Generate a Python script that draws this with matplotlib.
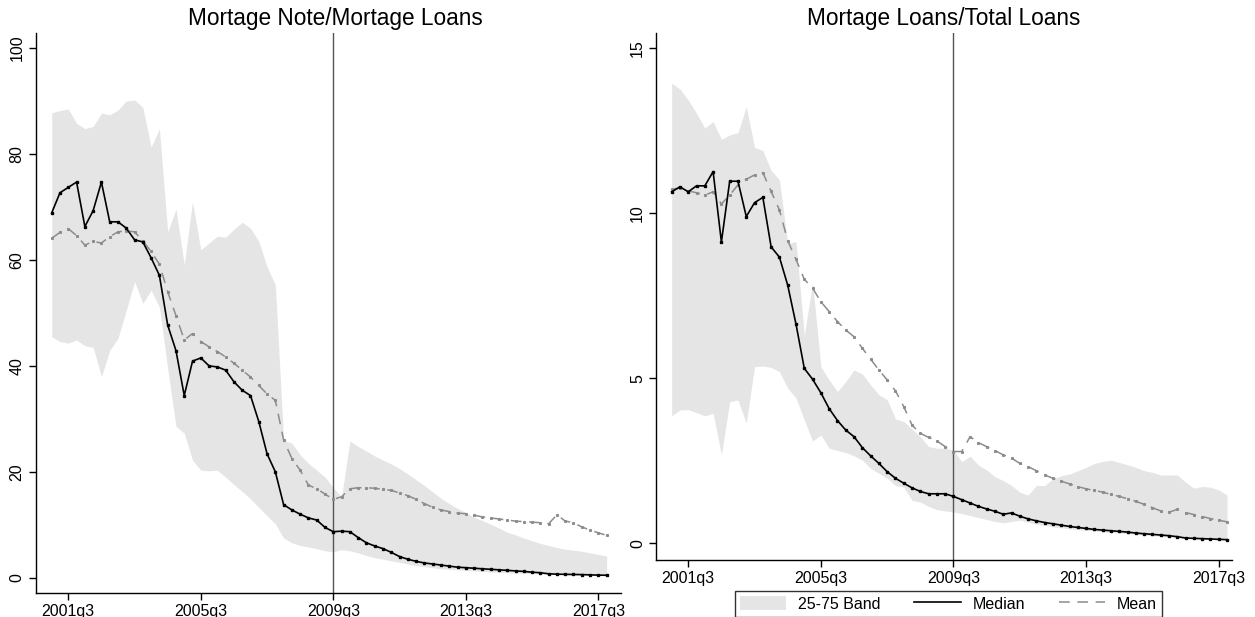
import numpy as np
import matplotlib.pyplot as plt

plt.rcParams['font.family'] = ['Liberation Sans', 'DejaVu Sans']

# quarters 2001q1 .. 2017q4
quarters = np.arange(68)
tick_pos = [2, 18, 34, 50, 66]
tick_labels = ['2001q3', '2005q3', '2009q3', '2013q3', '2017q3']

# Mortage Note / Mortage Loans
note_p25 = [45.5, 44.6, 44.3, 44.9, 43.8, 43.5, 38.0, 42.9, 45.2, 50.5, 55.9, 51.8, 54.3, 51.1,
            39.5, 28.6, 27.3, 22.2, 20.3, 20.2, 20.3, 19.0, 17.6, 16.3, 14.9, 13.3, 11.7, 10.2,
            7.5, 6.6, 6.1, 5.8, 5.5, 5.1, 4.9, 5.3, 5.1, 4.7, 4.2, 3.8, 3.5, 3.2, 2.9, 2.6,
            2.3, 2.1, 1.9, 1.7, 1.6, 1.5, 1.4, 1.3, 1.2, 1.1, 1.0, 0.95, 0.9, 0.85, 0.8, 0.75,
            0.7, 0.65, 0.6, 0.55, 0.5, 0.45, 0.4, 0.4]
note_p75 = [87.8, 88.2, 88.5, 85.8, 84.8, 85.2, 87.7, 87.4, 88.3, 90.0, 90.2, 88.8, 81.3, 84.8,
            65.3, 69.6, 59.1, 71.0, 61.9, 63.2, 64.5, 64.3, 65.8, 67.1, 66.0, 63.5, 58.7, 55.3,
            26.0, 25.4, 23.2, 21.6, 20.3, 19.0, 17.0, 15.3, 25.8, 24.8, 23.9, 23.0, 22.2, 21.5,
            20.6, 19.6, 18.5, 17.4, 16.2, 15.0, 14.0, 13.1, 12.3, 11.4, 10.8, 10.1, 9.4, 8.6,
            8.1, 7.5, 7.0, 6.5, 6.1, 5.7, 5.4, 5.2, 5.0, 4.7, 4.4, 4.1]
note_median = [68.9, 72.7, 73.7, 74.7, 66.3, 69.3, 74.7, 67.2, 67.2, 66.0, 63.8, 63.4, 60.4, 57.1,
               47.7, 42.9, 34.4, 40.9, 41.5, 40.0, 39.8, 39.2, 37.0, 35.4, 34.4, 29.5, 23.4, 20.0,
               13.8, 12.8, 12.0, 11.3, 10.9, 9.5, 8.7, 8.8, 8.7, 7.6, 6.6, 6.0, 5.5, 4.8, 4.0,
               3.5, 3.1, 2.8, 2.6, 2.4, 2.2, 2.0, 1.9, 1.8, 1.7, 1.6, 1.5, 1.4, 1.3, 1.2, 1.05,
               0.95, 0.75, 0.68, 0.65, 0.62, 0.6, 0.55, 0.5, 0.48]
note_mean = [64.1, 65.2, 65.9, 64.6, 62.8, 63.5, 63.2, 64.4, 65.3, 65.5, 65.3, 63.6, 61.6, 59.2,
             54.0, 49.5, 44.9, 46.1, 44.6, 43.6, 42.7, 41.7, 40.5, 39.2, 37.9, 36.3, 34.7, 33.5,
             26.0, 22.5, 20.3, 17.5, 16.8, 15.8, 14.8, 15.3, 16.8, 17.0, 17.0, 16.9, 16.7, 16.5,
             16.0, 15.5, 14.8, 14.0, 13.3, 12.8, 12.5, 12.2, 12.1, 11.8, 11.5, 11.3, 11.1, 10.9,
             10.7, 10.6, 10.5, 10.4, 10.2, 11.9, 10.7, 10.4, 9.6, 9.0, 8.5, 8.0]

# Mortage Loans / Total Loans
loan_p25 = [3.86, 4.04, 4.05, 3.96, 3.86, 3.94, 2.68, 4.29, 4.34, 3.64, 5.35, 5.37, 5.33, 5.2,
            4.7, 4.4, 3.74, 3.1, 3.28, 2.88, 2.81, 2.75, 2.65, 2.52, 2.27, 2.12, 1.97,
            1.75, 1.7, 1.3, 1.25, 1.12, 1.02, 0.98, 0.95, 0.9, 0.84, 0.78, 0.72, 0.66, 0.62,
            0.66, 0.7, 0.64, 0.58, 0.54, 0.5, 0.47, 0.44, 0.41, 0.39, 0.37, 0.35, 0.33, 0.31,
            0.29, 0.27, 0.25, 0.23, 0.21, 0.19, 0.17, 0.15, 0.14, 0.13, 0.12, 0.11, 0.1]
loan_p75 = [13.94, 13.76, 13.43, 13.03, 12.58, 12.78, 12.24, 12.37, 12.44, 13.23,
            12.0, 11.9, 11.3, 11.01, 9.09, 9.14, 6.3, 7.9, 5.35, 4.95,
            4.6, 4.9, 5.25, 5.13, 4.8, 4.5, 4.35, 3.77, 3.69, 3.46,
            3.23, 2.93, 2.88, 2.88, 2.83, 2.47, 2.64, 2.37, 2.22, 2.02,
            1.9, 1.75, 1.55, 1.46, 1.75, 1.75, 1.95, 2.05, 2.1, 2.2,
            2.3, 2.42, 2.48, 2.52, 2.45, 2.38, 2.3, 2.2, 2.15, 2.07,
            2.07, 2.07, 1.85, 1.67, 1.72, 1.7, 1.62, 1.46]
loan_median = [10.65, 10.8, 10.65, 10.83, 10.83, 11.26, 9.13, 10.97, 10.97, 9.9, 10.32, 10.48,
               8.98, 8.67, 7.82, 6.64, 5.30, 4.97, 4.56, 4.08, 3.72, 3.43, 3.23, 2.90, 2.65,
               2.42, 2.17, 1.97, 1.82, 1.68, 1.57, 1.50, 1.50, 1.50, 1.42, 1.32, 1.22, 1.12,
               1.04, 0.97, 0.88, 0.92, 0.82, 0.74, 0.68, 0.63, 0.59, 0.55, 0.51, 0.48, 0.45,
               0.42, 0.40, 0.38, 0.36, 0.34, 0.31, 0.29, 0.27, 0.25, 0.23, 0.20, 0.16, 0.15,
               0.14, 0.13, 0.12, 0.11]
loan_mean = [10.73, 10.76, 10.68, 10.62, 10.55, 10.65, 10.28, 10.55, 10.86, 11.03, 11.16, 11.23,
             10.66, 10.1, 9.17, 8.6, 8.0, 7.73, 7.32, 7.02, 6.72, 6.46, 6.26, 5.91, 5.58, 5.25,
             4.95, 4.62, 4.14, 3.58, 3.33, 3.21, 3.10, 2.93, 2.78, 2.78, 3.23, 3.05, 2.93, 2.81,
             2.68, 2.58, 2.42, 2.32, 2.20, 2.07, 1.97, 1.88, 1.80, 1.72, 1.65, 1.60, 1.55, 1.48,
             1.42, 1.35, 1.27, 1.18, 1.08, 0.98, 0.94, 1.03, 0.93, 0.87, 0.81, 0.75, 0.70, 0.65]

W, H = 1255, 617
fig = plt.figure(figsize=(W / 100, H / 100), dpi=100)
ax1 = fig.add_axes([35.5 / W, 1 - 593.3 / H, (620.7 - 35.5) / W, (593.3 - 32.7) / H])
ax2 = fig.add_axes([656 / W, 1 - 560 / H, (1232 - 656) / W, (560 - 32.7) / H])

mean_dash = (0, (7, 5))


def draw(ax, p25, p75, med, mean, xlim, ylim, yticks):
    band = ax.fill_between(quarters, p25, p75, color='#e5e5e5', lw=0, zorder=1)
    ax.axvline(34, color='#555555', lw=1.0, zorder=2)
    ax.plot(quarters, med, color='black', lw=1.2, marker='s', ms=1.8, zorder=4)
    ax.plot(quarters, mean, color='#8c8c8c', lw=1.1, ls=mean_dash,
            marker='s', ms=1.2, zorder=3)
    ax.set_xlim(*xlim)
    ax.set_ylim(*ylim)
    ax.set_xticks(tick_pos)
    ax.set_xticklabels(tick_labels)
    ax.set_yticks(yticks)
    ax.set_yticklabels([str(t) for t in yticks], rotation=90, va='center')
    ax.tick_params(length=5, width=1, labelsize=11.5, color='black', pad=3)
    for s in ['top', 'right']:
        ax.spines[s].set_visible(False)
    for s in ['left', 'bottom']:
        ax.spines[s].set_color('black')
        ax.spines[s].set_linewidth(1.0)
    return band


draw(ax1, note_p25, note_p75, note_median, note_mean,
     (-1.96, 68.7), (-2.93, 102.9), [0, 20, 40, 60, 80, 100])
band = draw(ax2, loan_p25, loan_p75, loan_median, loan_mean,
            (-1.89, 67.6), (-0.506, 15.47), [0, 5, 10, 15])

fig.text(335.6 / W, 1 - 19 / H, 'Mortage Note/Mortage Loans', ha='center', va='center',
         fontsize=16.3)
fig.text(944 / W, 1 - 19 / H, 'Mortage Loans/Total Loans', ha='center', va='center',
         fontsize=16.3)

med_handle = plt.Line2D([], [], color='black', lw=1.2)
mean_handle = plt.Line2D([], [], color='#8c8c8c', lw=1.1, ls=mean_dash)
leg = fig.legend([band, med_handle, mean_handle], ['25-75 Band', 'Median', 'Mean'],
                 loc='center', bbox_to_anchor=(948.5 / W, 1 - 604 / H), ncol=3,
                 fontsize=11.5, frameon=True, fancybox=False, edgecolor='black',
                 handlelength=2.9, handleheight=1.0, columnspacing=2.1,
                 borderpad=0.3, handletextpad=0.75, borderaxespad=0)
leg.get_frame().set_linewidth(1.0)

fig.savefig('out.png', dpi=100)
